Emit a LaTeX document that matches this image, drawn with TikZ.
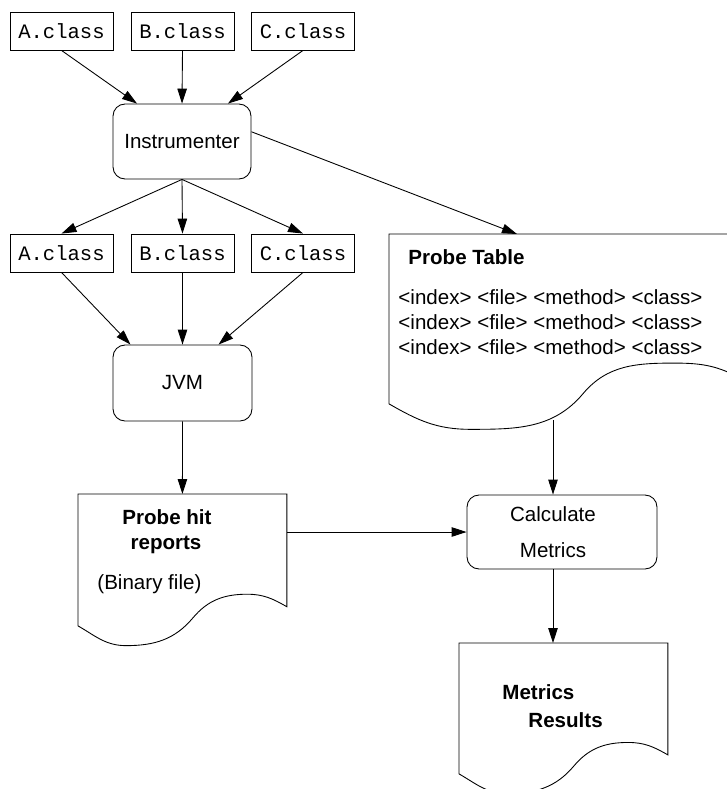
\documentclass[tikz,border=0pt]{standalone}
\usepackage{fontspec}
\setmainfont{Liberation Sans}
\setmonofont{Liberation Mono}
\usetikzlibrary{positioning, calc, arrows.meta}

\tikzset{
  filebox/.style = {rectangle, draw, minimum width=2.06cm, minimum height=0.76cm, inner sep=0pt, font=\ttfamily\fontsize{11.7}{14}\selectfont},
  procbox/.style = {rectangle, draw, rounded corners=0.24cm, inner sep=0pt, align=center},
  docbox/.style = {rectangle, anchor=north west, inner sep=0pt},
  doctext/.style = {inner sep=0pt},
}

% outline of a document symbol round an empty node
\newcommand{\docoutline}[1]{%
  \draw let \p1 = (#1.north west), \p2 = (#1.south east),
        \n1 = {\x2-\x1}, \n2 = {\y1-\y2} in
    (\x1,\y2) -- (\p1) -- (\x2,\y1) -- (\x2,{\y1-0.855*\n2})
    to[out=150,in=0] ({\x1+0.81*\n1},{\y1-0.76*\n2})
    to[out=180,in=50] ({\x1+0.55*\n1},{\y1-0.94*\n2})
    to[out=-130,in=0] ({\x1+0.23*\n1},{\y1-1.15*\n2})
    to[out=180,in=-30] (\x1,\y2) -- cycle;
}

\begin{document}
\begin{tikzpicture}[x=0.02cm, y=-0.02cm, line width=0.5pt,
    font=\fontsize{11.7}{14}\selectfont,
    >={Triangle[length=0.3cm,width=0.19cm]}]
\clip (0,0) rectangle (727,789);

\node[filebox] (a1) at (61.5,31) {A.class};
\node[filebox] (b1) at (182.5,31) {B.class};
\node[filebox] (c1) at (303,31) {C.class};

\node[procbox, minimum width=2.76cm, minimum height=1.5cm] (instr) at (182,141.5) {Instrumenter};
    \draw [->] (a1.south) -- ([xshift=-0.9cm]instr.north);
    \draw [->] (b1.south) -- (instr.north);
    \draw [->] (c1.south) -- ([xshift=0.92cm]instr.north);

\node[filebox] (a2) at (61.5,253) {A.class};
\node[filebox] (b2) at (182.5,253) {B.class};
\node[filebox] (c2) at (303,253) {C.class};
    \draw [->] (instr.south) -- (a2.north);
    \draw [->] (instr.south) -- (b2.north);
    \draw [->] (instr.south) -- (c2.north);

\node[procbox, minimum width=2.78cm, minimum height=1.52cm] (jvm) at (182.5,383) {JVM};
    \draw [->] (a2.south) -- ([xshift=-1.04cm]jvm.north);
    \draw [->] (b2.south) -- (jvm.north);
    \draw [->] (c2.south) -- ([xshift=0.72cm]jvm.north);

% probe table
\node[docbox, minimum width=7.04cm, minimum height=3.38cm] (table) at (389,234) {};
\docoutline{table}
\node[doctext, anchor=base west] (tabletitle) at (408,264) {\textbf{Probe Table}};
\foreach \r in {0,1,2}
    \node[doctext, anchor=base west] (row\r) at (398,{304+25*\r}) {<index> <file> <method> <class>};
    \draw [->] (instr.8) -- ([xshift=2.56cm]table.north west);

% probe hits
\node[docbox, minimum width=4.16cm, minimum height=2.62cm] (hits) at (78,494) {};
\docoutline{hits}
\node[doctext, anchor=base] (hitstitle) at (167,524) {\textbf{Probe hit}};
\node[doctext, anchor=base] (hitstitle2) at (166,549) {\textbf{reports}};
\node[doctext, anchor=base west] (hitsnote) at (97,589) {(Binary file)};
    \draw [->] (jvm.south) -- (hits.north);

\node[procbox, minimum width=3.8cm, minimum height=1.48cm] (calc) at (562,532) {\hspace*{-0.36cm}Calculate\\[6.5pt]\hspace*{-0.36cm}Metrics};
\coordinate (tableout) at (553,420);
    \draw [->] (tableout) -- (tableout |- calc.north);
    \draw [->] (calc.west -| hits.east) -- (calc.west);

% results
\node[docbox, minimum width=4.16cm, minimum height=2.6cm] (results) at (459,643) {};
\docoutline{results}
\node[doctext, anchor=base west] (restitle) at (502,699) {\textbf{Metrics}};
\node[doctext, anchor=base west] (restitle2) at (528,727) {\textbf{Results}};
    \draw [->] (tableout |- calc.south) -- (tableout |- results.north);
\end{tikzpicture}
\end{document}
